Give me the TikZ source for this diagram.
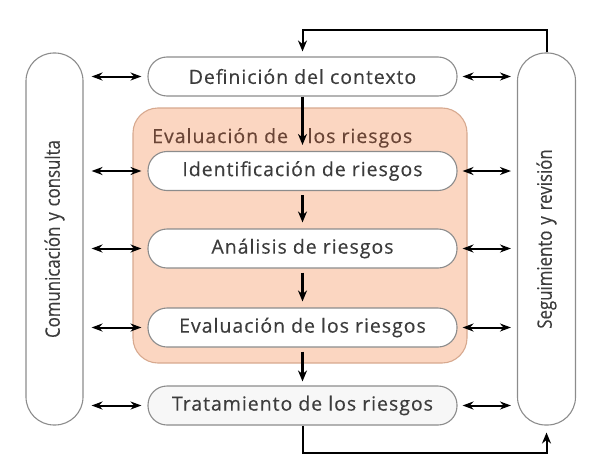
\documentclass[tikz,border=0pt]{standalone}
\usepackage{fontspec}
\setmainfont{Open Sans}[LetterSpace=5, FakeBold=0.3]
\newfontfamily\vfont{Open Sans}[FakeBold=0.3]
\usetikzlibrary{arrows.meta}
\definecolor{txt}{HTML}{3C3C3C}
\definecolor{bord}{HTML}{8C8C8C}
\definecolor{orfill}{HTML}{FBD6C1}
\definecolor{ordraw}{HTML}{D7A98F}
\definecolor{orlab}{HTML}{6A4536}
\begin{document}
\begin{tikzpicture}[x=1pt,y=-1pt,
  stage/.style={draw=bord, line width=1.1pt, fill=white, rounded corners=19pt,
    minimum width=309pt, minimum height=39pt, inner sep=0pt, text=txt,
    font=\fontsize{19.5}{22}\selectfont},
  vpill/.style={draw=bord, line width=1.1pt, fill=white, rounded corners=28pt,
    minimum width=57pt, minimum height=372pt, inner sep=0pt, text=txt,
    font=\vfont\fontsize{20}{23}\selectfont},
  flow/.style={line width=2.2pt, -{Stealth[length=11pt,width=9pt]}, shorten >=6pt},
  dbl/.style={line width=2pt, {Stealth[length=11pt,width=8pt]}-{Stealth[length=11pt,width=8pt]}, shorten <=8pt, shorten >=6pt}
]
\useasboundingbox (0,0) rectangle (604,460);
% large evaluation area
\node[draw=ordraw, line width=1.1pt, fill=orfill, rounded corners=25pt,
  minimum width=334pt, minimum height=255pt] (area) at (300,235.5) {};
\node[anchor=base west, text=orlab, inner sep=0pt, font=\fontsize{19.5}{22}\selectfont]
  (arealab) at (152,143) {Evaluación de\hspace{1em}los riesgos};
% side pills
\node[vpill] (lpill) at (54.5,239) {\rotatebox{90}{\scalebox{0.84}[1]{Comunicación\hspace{0.35em}y\hspace{0.35em}consulta}}};
\node[vpill, minimum width=58pt] (rpill) at (546.5,239) {\rotatebox{90}{\scalebox{0.84}[1]{Seguimiento\hspace{0.35em}y\hspace{0.35em}revisión}}};
% stages
\node[stage] (def) at (302.5,76.5) {Definición del contexto};
\node[stage] (ident) at (302.5,171) {Identificación de riesgos};
\node[stage] (anal) at (302.5,248.5) {Análisis de riesgos};
\node[stage] (evalr) at (302.5,327.5) {Evaluación de los riesgos};
\node[stage, fill=black!3] (trat) at (302.5,405.5) {Tratamiento de los riesgos};
% flow arrows
\draw[flow] (def.south) -- (ident.north);
\draw[flow, shorten <=4pt] (ident.south) -- (anal.north);
\draw[flow, shorten <=4pt] (anal.south) -- (evalr.north);
\draw[flow, shorten <=4pt, shorten >=4pt] (evalr.south) -- (trat.north);
% feedback loops
\draw[flow, line width=2pt, shorten >=5pt] (rpill.north) -- ++(0,-22) -| (def.north);
\draw[flow, line width=2pt, shorten >=7pt] (trat.south) -- ++(0,27) -| (rpill.south);
% communication arrows
\foreach \n in {def,ident,anal,evalr,trat}{
  \draw[dbl] (lpill.east |- \n.west) -- (\n.west);
  \draw[dbl, shorten <=5pt, shorten >=6pt] (\n.east) -- (rpill.west |- \n.east);
}
\end{tikzpicture}
\end{document}
